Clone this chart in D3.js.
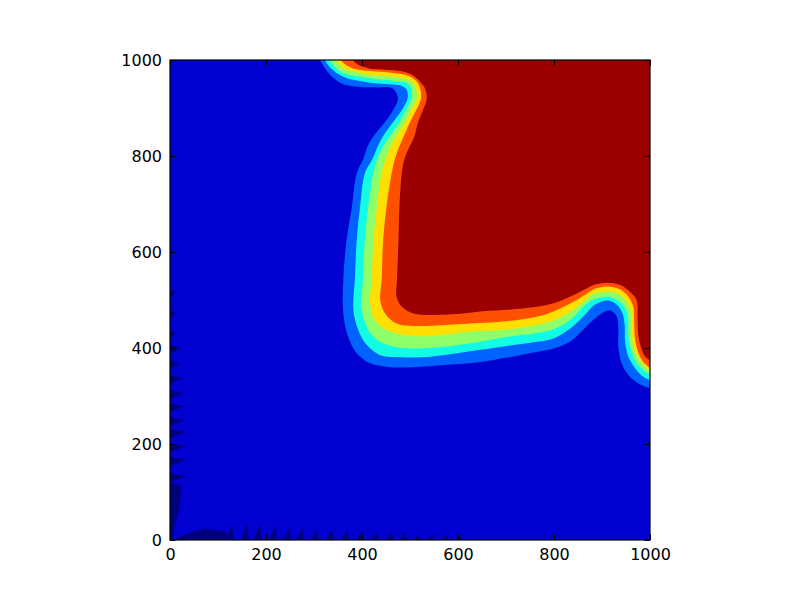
<!DOCTYPE html>
<html>
<head>
<meta charset="utf-8">
<script src="https://cdn.jsdelivr.net/npm/d3@7"></script>
<style>
  html, body { margin: 0; padding: 0; background: #ffffff; }
  svg { display: block; }
  .tick text { font-family: "DejaVu Sans", sans-serif; }
</style>
</head>
<body>
<svg id="chart" width="800" height="600"></svg>
<script>
// ---------- data ----------
const xTicks = [0, 200, 400, 600, 800, 1000];
const yTicks = [0, 200, 400, 600, 800, 1000];

// filled-contour band colours (jet), lowest to highest
const levelColors = ["#00007f", "#0000d0", "#0062ff", "#12fce5", "#8eff69", "#ffdf00", "#ff5000", "#9b0000"];

// contour boundaries [x, y]: each runs from the top edge to the right edge,
// the region above/right of it has the next-higher level
const boundary1 = [[312,1000],[323,983],[340,963],[360,950],[396,944],[431,943],[463,941],[475,920],[465,896],[448,871],[429,848],[413,823],[402,792],[389,764],[379,694],[368,625],[361,542],[361,472],[371,424],[389,389],[417,368],[458,360],[507,360],[576,365],[646,371],[729,385],[771,393],[799,399],[833,413],[881,458],[906,476],[920,477],[931,465],[934,438],[934,403],[941,368],[955,344],[976,326],[1000,316]];
const boundary2 = [[323,1000],[333,985],[361,965],[396,956],[431,951],[465,949],[483,946],[493,938],[495,921],[483,896],[465,871],[448,848],[434,823],[421,792],[406,764],[396,694],[389,625],[385,542],[382,479],[392,438],[410,406],[438,385],[472,381],[542,382],[625,393],[694,403],[764,413],[799,420],[833,440],[868,473],[882,488],[910,499],[927,493],[941,476],[947,451],[948,413],[955,382],[969,358],[986,340],[1000,333]];
const boundary3 = [[333,1000],[344,985],[361,973],[396,965],[431,960],[465,957],[488,954],[500,946],[504,933],[503,919],[492,896],[478,871],[463,848],[448,827],[433,796],[424,765],[413,694],[406,625],[402,542],[399,486],[410,444],[431,417],[465,403],[507,399],[576,403],[646,413],[694,422],[764,431],[799,439],[833,458],[868,492],[882,501],[910,507],[931,501],[946,486],[954,465],[955,424],[962,392],[972,368],[990,351],[1000,344]];
const boundary4 = [[344,1000],[352,992],[361,983],[396,973],[431,967],[465,965],[492,960],[506,952],[513,938],[514,921],[502,896],[490,871],[475,848],[463,827],[450,796],[441,765],[431,694],[424,625],[420,542],[417,493],[427,458],[451,438],[486,427],[542,425],[625,434],[694,438],[764,448],[799,458],[833,475],[868,502],[882,513],[910,517],[934,513],[951,496],[960,476],[962,438],[965,403],[976,379],[990,361],[1000,351]];
const boundary5 = [[356,1000],[361,994],[375,985],[396,979],[431,976],[465,973],[496,967],[513,956],[521,941],[523,920],[513,896],[500,871],[490,848],[479,823],[469,796],[462,765],[451,694],[444,625],[441,542],[438,500],[448,472],[472,451],[507,446],[576,448],[625,451],[694,455],[764,465],[799,476],[833,492],[868,513],[882,522],[910,528],[938,522],[955,507],[965,486],[967,451],[969,417],[976,389],[986,371],[1000,358]];
const boundary6 = [[381,1000],[392,990],[417,982],[458,979],[490,975],[510,965],[525,950],[531,941],[535,920],[527,896],[517,871],[508,838],[496,813],[488,792],[483,765],[478,694],[476,625],[473,542],[472,507],[483,486],[507,472],[542,469],[611,472],[646,476],[694,479],[764,486],[799,493],[833,507],[868,524],[882,531],[910,536],[938,531],[958,517],[972,500],[974,465],[976,424],[983,396],[990,382],[1000,375]];
const boundaries = [boundary1, boundary2, boundary3, boundary4, boundary5, boundary6];

// small under-shoot (lowest level) patches along the left and bottom edges
const leftCornerPatch = [[0,119],[21,115],[23,94],[19,63],[12,37],[8,17],[4,0],[0,0]];
const bottomCornerPatch = [[4,0],[21,8],[46,17],[69,23],[94,21],[115,17],[129,0]];
const leftSpikeY   = [512, 469, 427, 396, 365, 333, 302, 275, 246, 221, 192, 163, 129];
const leftSpikeLen = [12, 12, 12, 24, 20, 26, 28, 30, 30, 33, 33, 33, 33];
const bottomSpikeX = [125, 156, 183, 215, 244, 271, 302, 333, 365, 396, 427, 458, 485, 515, 542, 573, 600];
const bottomSpikeH = [31, 33, 33, 31, 27, 25, 23, 23, 19, 19, 17, 17, 15, 12, 12, 10, 10];

// ---------- layout ----------
const svg = d3.select("#chart");
const margin = { left: 170, top: 60, right: 150, bottom: 60 };
const W = 800 - margin.left - margin.right;   // 480
const H = 600 - margin.top - margin.bottom;   // 480

const x = d3.scaleLinear().domain([0, 1000]).range([0, W]);
const y = d3.scaleLinear().domain([0, 1000]).range([H, 0]);

svg.append("rect").attr("width", 800).attr("height", 600).attr("fill", "#ffffff");

const g = svg.append("g").attr("transform", `translate(${margin.left},${margin.top})`);

svg.append("defs").append("clipPath").attr("id", "plotClip")
  .append("rect").attr("width", W).attr("height", H);

const plot = g.append("g").attr("clip-path", "url(#plotClip)");

// base level
plot.append("rect").attr("width", W).attr("height", H).attr("fill", levelColors[1]);

// lowest level patches
const linePoly = d3.line().x(d => x(d[0])).y(d => y(d[1])).curve(d3.curveLinearClosed);
plot.append("path").attr("d", linePoly(leftCornerPatch)).attr("fill", levelColors[0]);
plot.append("path").attr("d", linePoly(bottomCornerPatch)).attr("fill", levelColors[0]);
plot.selectAll("path.lspike").data(leftSpikeY).join("path")
  .attr("class", "lspike")
  .attr("fill", levelColors[0])
  .attr("d", (v, i) => linePoly([[0, v - 9], [leftSpikeLen[i], v + 4], [0, v + 10]]));
plot.selectAll("path.bspike").data(bottomSpikeX).join("path")
  .attr("class", "bspike")
  .attr("fill", levelColors[0])
  .attr("d", (v, i) => linePoly([[v - 9, 0], [v + 5, bottomSpikeH[i]], [v + 8, 0]]));

// contour bands
const curve = d3.line().x(d => x(d[0])).y(d => y(d[1])).curve(d3.curveCatmullRom.alpha(0.5));
boundaries.forEach((pts, k) => {
  const d = curve(pts) + `L${x(1000) + 2},${y(pts[pts.length - 1][1])}L${x(1000) + 2},${y(1000) - 2}L${x(pts[0][0])},${y(1000) - 2}Z`;
  plot.append("path").attr("d", d).attr("fill", levelColors[k + 2]);
});

// ---------- axes ----------
const fontSize = "16px";
const tickLen = 5.5;

const xAxisB = g.append("g").attr("transform", `translate(0,${H})`)
  .call(d3.axisBottom(x).tickValues(xTicks).tickFormat(d3.format("d")).tickSizeInner(-tickLen).tickSizeOuter(0).tickPadding(9));
const xAxisT = g.append("g")
  .call(d3.axisTop(x).tickValues(xTicks).tickFormat("").tickSizeInner(-tickLen).tickSizeOuter(0));
const yAxisL = g.append("g")
  .call(d3.axisLeft(y).tickValues(yTicks).tickFormat(d3.format("d")).tickSizeInner(-tickLen).tickSizeOuter(0).tickPadding(8));
const yAxisR = g.append("g").attr("transform", `translate(${W},0)`)
  .call(d3.axisRight(y).tickValues(yTicks).tickFormat("").tickSizeInner(-tickLen).tickSizeOuter(0));

[xAxisB, xAxisT, yAxisL, yAxisR].forEach(a => {
  a.select(".domain").remove();
  a.selectAll(".tick line").attr("stroke", "#000").attr("stroke-width", 1);
  a.selectAll(".tick text").attr("font-size", fontSize).attr("fill", "#000")
    .attr("font-family", "DejaVu Sans, sans-serif");
});

// frame
g.append("rect").attr("width", W).attr("height", H)
  .attr("fill", "none").attr("stroke", "#000").attr("stroke-width", 1.2);
</script>
</body>
</html>
